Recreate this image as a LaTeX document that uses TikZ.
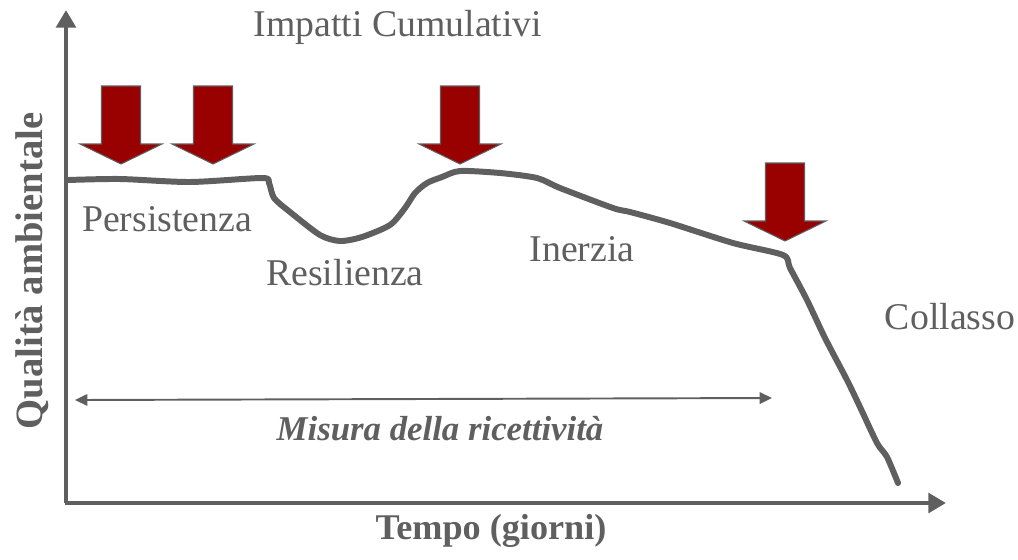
\documentclass[tikz,border=0pt]{standalone}
\usepackage{fontspec}
\setmainfont{Liberation Serif}
\usetikzlibrary{positioning,arrows.meta}
\definecolor{grigio}{HTML}{5F5F5F}
\definecolor{rosso}{HTML}{990000}
\newcommand{\impatto}[1]{%
  \begin{scope}[shift={#1}]
  \filldraw[fill=rosso,draw=grigio,line width=0.6pt]
    (-19.5,-78) -- (19.5,-78) -- (19.5,-20) -- (41,-20) -- (0,0)
    -- (-41,-20) -- (-19.5,-20) -- cycle;
  \end{scope}}
\tikzset{
  etichetta/.style={text=grigio,font=\fontsize{21.5}{24}\selectfont,anchor=base,inner sep=0pt},
  asse/.style={draw=grigio,line width=2.8pt,-{Triangle[length=10pt,width=11pt]}},
  curva/.style={draw=grigio,line width=3.4pt,line join=round,line cap=round}
}

\begin{document}
\begin{tikzpicture}[x=0.02cm,y=-0.02cm]
\useasboundingbox (0,0) rectangle (1018,559);
% assi
\coordinate (origine) at (66,503);
\coordinate (ycima) at (66,10);
\coordinate (xfine) at (946,503);
\draw[asse] (origine) -- (ycima);
\draw[asse] (origine) ++(-1.4,0) -- (xfine);
% andamento della qualita'
\draw[curva] plot[smooth,tension=0.45] coordinates {
  (68,180) (120,179) (190,182) (262,178) (269,183) (274,198) (290,212)
  (320,235) (340,241) (362,237) (390,225) (405,208) (415,193) (427,183)
  (442,177) (460,171) (500,173) (537,178) (560,188) (613,208) (630,212)
  (670,223) (733,243) (783,255) (790,268) (807,300) (825,338) (847,380)
  (860,407) (877,443) (887,457) (898,483)};
% impatti
\impatto{(121,164)}
\impatto{(213,164)}
\impatto{(460,164)}
\impatto{(785,241)}
% misura
\coordinate (misA) at (75,400);
\coordinate (misB) at (772,398);
\draw[draw=grigio,line width=1.1pt,{Triangle[length=7pt,width=6.5pt]}-{Triangle[length=7pt,width=6.5pt]}] (misA) -- (misB);
% testi
\node[etichetta] (impatti) at (398,36) {Impatti Cumulativi};
\node[etichetta] (persistenza) at (167,231) {Persistenza};
\node[etichetta] (resilienza) at (345,285) {Resilienza};
\node[etichetta] (inerzia) at (582,261) {Inerzia};
\node[etichetta] (collasso) at (950,329) {Collasso};
\node[etichetta,font=\fontsize{19.8}{22}\selectfont\bfseries\itshape] (misura) at (440,440) {Misura della ricettività};
\node[etichetta,font=\fontsize{20.6}{23}\selectfont\bfseries] (tempo) at (491,539) {Tempo (giorni)};
\node[etichetta,font=\fontsize{22}{24}\selectfont\bfseries,rotate=90] (qualita) at (42,271) {Qualità ambientale};
\end{tikzpicture}
\end{document}
